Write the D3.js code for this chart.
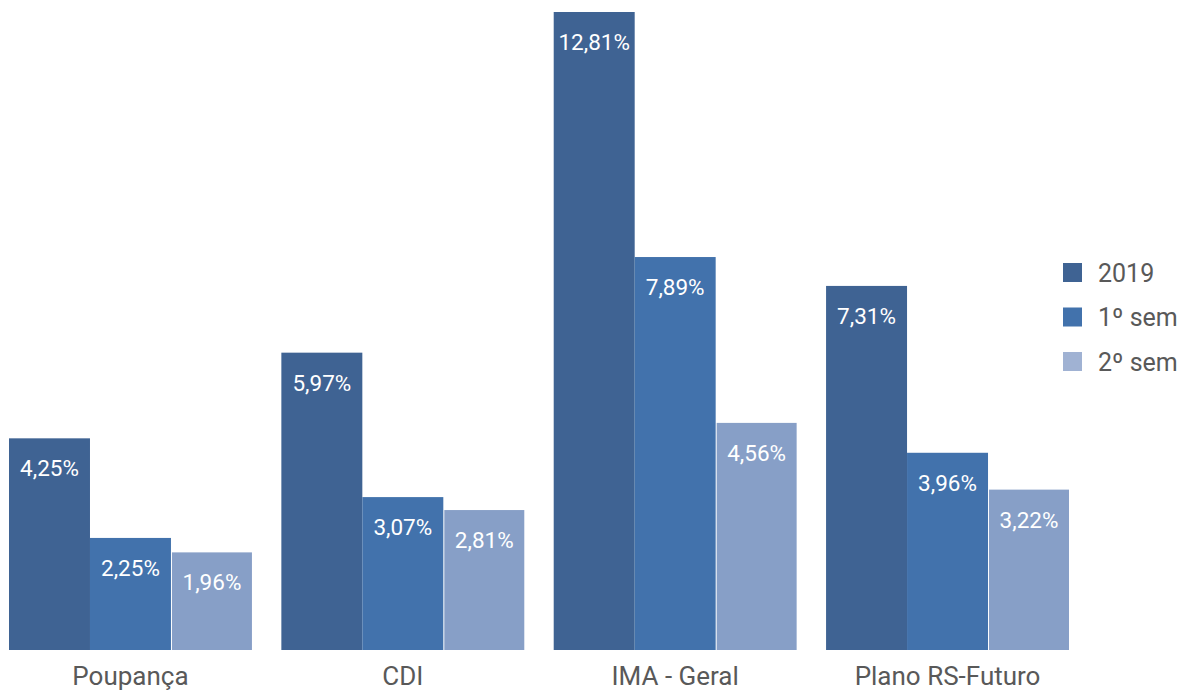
<!DOCTYPE html>
<html><head><meta charset="utf-8">
<script src="https://cdn.jsdelivr.net/npm/d3@7"></script>
<style>body{margin:0;background:#fff}svg{display:block;font-family:Roboto,"Noto Sans",sans-serif}</style>
</head><body><svg id="c" width="1190" height="691"></svg>
<script>
const categories = ["Poupança", "CDI", "IMA - Geral", "Plano RS-Futuro"];
const seriesNames = ["2019", "1º sem", "2º sem"];
const v2019 = [4.25, 5.97, 12.81, 7.31];
const vSem1 = [2.25, 3.07, 7.89, 3.96];
const vSem2 = [1.96, 2.81, 4.56, 3.22];
const colors = ["#3F6393", "#4272AC", "#879FC7"];
const legendColors = ["#3F6393", "#4272AC", "#A0B2D3"];

const series = [v2019, vSem1, vSem2];
const svg = d3.select("#c");
const x0 = d3.scaleBand().domain(categories).range([9, 1069]).paddingInner(0.108).paddingOuter(0);
const x1 = d3.scaleBand().domain(seriesNames).range([0, x0.bandwidth()]).padding(0);
const y = d3.scaleLinear().domain([0, 12.81]).range([650, 12]);
const fmt = v => d3.format(".2f")(v).replace(".", ",") + "%";

const g = svg.append("g").selectAll("g").data(categories).join("g")
  .attr("transform", d => `translate(${x0(d)},0)`);

g.each(function(cat, ci) {
  const sel = d3.select(this);
  seriesNames.forEach((s, si) => {
    const v = series[si][ci];
    const gap = si === 2 ? 1 : 0;
    sel.append("rect")
      .attr("x", x1(s) + gap)
      .attr("y", y(v))
      .attr("width", x1.bandwidth() - gap)
      .attr("height", y(0) - y(v))
      .attr("fill", colors[si]);
    sel.append("text")
      .attr("x", x1(s) + x1.bandwidth() / 2 + gap / 2)
      .attr("y", y(v) + 38)
      .attr("text-anchor", "middle")
      .attr("fill", "#ffffff")
      .attr("font-size", "22.5px")
      .text(fmt(v));
  });
});

// category axis labels
const xAxis = d3.axisBottom(x0).tickSize(0).tickPadding(0);
const ax = svg.append("g").attr("transform", "translate(0,650)").call(xAxis);
ax.select(".domain").remove();
ax.selectAll("text").attr("font-size", "26px").attr("fill", "#595959")
  .attr("font-family", "Roboto, 'Noto Sans', sans-serif").attr("dy", "35px");

// legend
const lg = svg.append("g").selectAll("g").data(seriesNames).join("g")
  .attr("transform", (d, i) => `translate(1063,${263 + i * 44.5})`);
lg.append("rect").attr("width", 19).attr("height", 19).attr("fill", (d, i) => legendColors[i]);
lg.append("text").attr("x", 35).attr("y", 18.5).attr("font-size", "25px").attr("fill", "#595959").text(d => d);
</script></body></html>
